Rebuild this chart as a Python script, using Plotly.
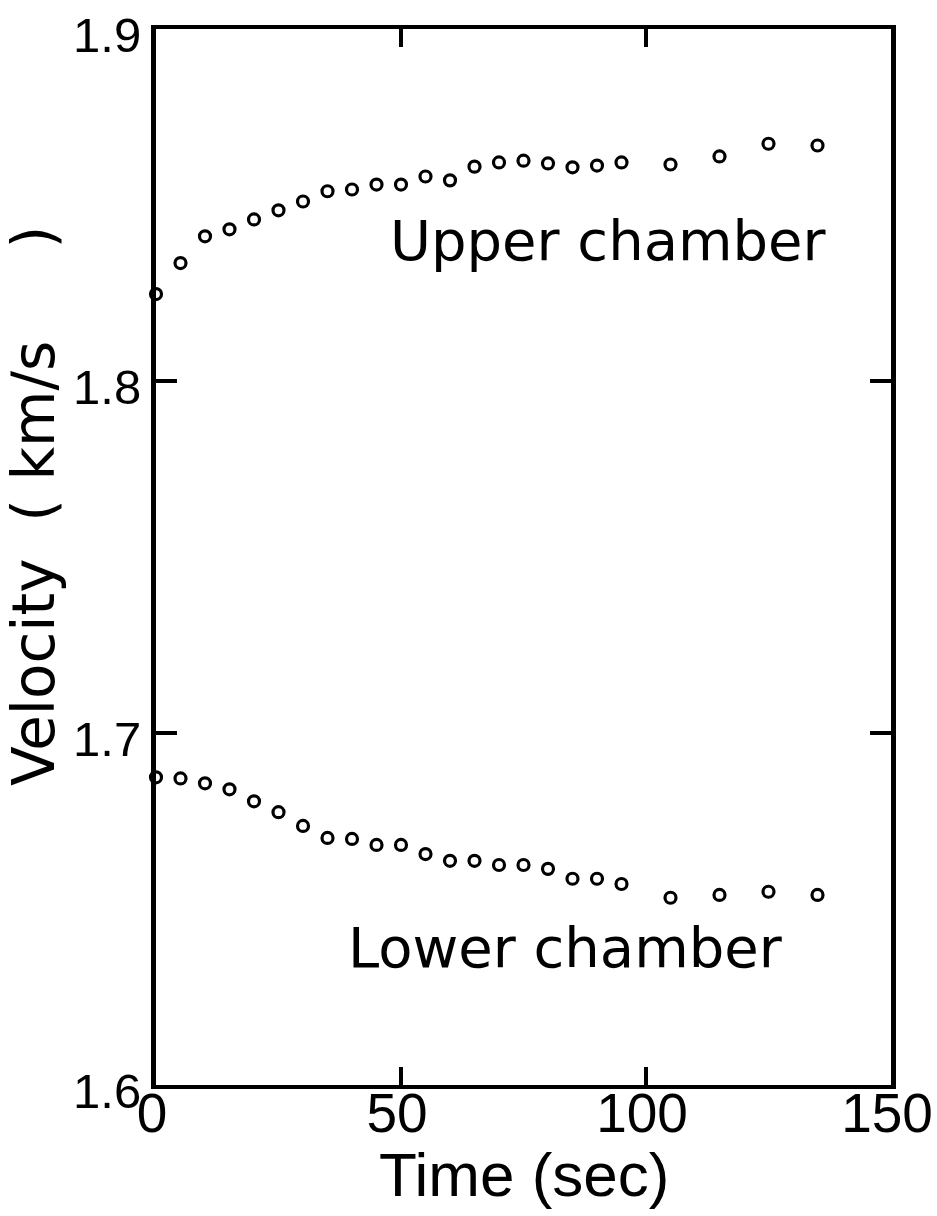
import plotly.graph_objects as go

# Sampling times (s) and measured velocities (km/s)
time_s = [0, 5, 10, 15, 20, 25, 30, 35, 40, 45, 50, 55, 60, 65, 70, 75, 80, 85, 90, 95,
          105, 115, 125, 135]
upper_velocity = [1.8247, 1.8335, 1.8411, 1.8431, 1.8459, 1.8485, 1.8510, 1.8539,
                  1.8544, 1.8558, 1.8558, 1.8581, 1.8570, 1.8609, 1.8621, 1.8626,
                  1.8618, 1.8607, 1.8612, 1.8621, 1.8615, 1.8638, 1.8674, 1.8669]
lower_velocity = [1.6874, 1.6871, 1.6857, 1.6840, 1.6806, 1.6775, 1.6736, 1.6702,
                  1.6699, 1.6682, 1.6682, 1.6656, 1.6637, 1.6637, 1.6625, 1.6625,
                  1.6614, 1.6586, 1.6586, 1.6571, 1.6532, 1.6540, 1.6549, 1.6540]

x_ticks = [0, 50, 100, 150]
x_tick_labels = ["0", "50", "100", "150"]
y_ticks = [1.6, 1.7, 1.8, 1.9]
y_tick_labels = ["1.6", "1.7", "1.8", "1.9"]

series_labels = ["Upper chamber", "Lower chamber"]

LETTER_FONT = "DejaVu Sans"
DIGIT_FONT = "Liberation Sans, Arial, sans-serif"

marker_style = dict(symbol="circle", size=11, color="white",
                    line=dict(color="black", width=3.2))

fig = go.Figure()
for vals in (upper_velocity, lower_velocity):
    fig.add_trace(go.Scatter(x=time_s, y=vals, mode="markers",
                             marker=marker_style, cliponaxis=False,
                             showlegend=False))

fig.add_annotation(x=47.4, y=1.8400, xref="x", yref="y", text=series_labels[0],
                   showarrow=False, xanchor="left", yanchor="middle",
                   font=dict(family=LETTER_FONT, size=56, color="black"))
fig.add_annotation(x=38.7, y=1.6390, xref="x", yref="y", text=series_labels[1],
                   showarrow=False, xanchor="left", yanchor="middle",
                   font=dict(family=LETTER_FONT, size=56, color="black"))

# Axis titles
fig.add_annotation(x=0.5, y=-0.085, xref="paper", yref="paper",
                   text="Time (sec)", showarrow=False,
                   xanchor="center", yanchor="middle",
                   font=dict(family=DIGIT_FONT, size=62, color="black"))
fig.add_annotation(x=-0.165, y=0.548, xref="paper", yref="paper",
                   text="Velocity\u00a0\u00a0( km/s\u00a0\u00a0\u00a0\u00a0\u00a0)",
                   showarrow=False, textangle=-90,
                   xanchor="center", yanchor="middle",
                   font=dict(family=LETTER_FONT, size=58, color="black"))

fig.update_xaxes(range=[0, 150], tickvals=x_ticks, ticktext=x_tick_labels,
                 showgrid=False, zeroline=False, automargin=False,
                 showline=True, linecolor="black", linewidth=4, mirror="ticks",
                 ticks="inside", ticklen=18, tickwidth=4, tickcolor="black",
                 ticklabelstandoff=-23, ticklabeloverflow="allow",
                 ticklabelshift=-4,
                 tickfont=dict(family=DIGIT_FONT, size=55, color="black"))
fig.update_yaxes(range=[1.6, 1.9], tickvals=y_ticks, ticktext=y_tick_labels,
                 showgrid=False, zeroline=False, automargin=False,
                 showline=True, linecolor="black", linewidth=5, mirror="ticks",
                 ticks="inside", ticklen=21, tickwidth=4, tickcolor="black",
                 ticklabelstandoff=0, ticklabeloverflow="allow",
                 ticklabelshift=6,
                 tickfont=dict(family=DIGIT_FONT, size=49, color="black"))

fig.update_layout(width=937, height=1216,
                  margin=dict(l=156, r=46, t=29, b=131, autoexpand=False),
                  paper_bgcolor="white", plot_bgcolor="white",
                  showlegend=False)

fig.write_html("out.html")
